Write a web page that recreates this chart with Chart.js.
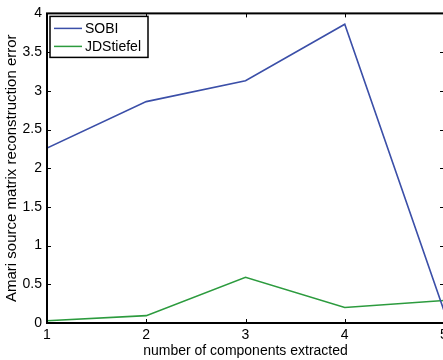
<!DOCTYPE html>
<html>
<head>
<meta charset="utf-8">
<script src="https://cdn.jsdelivr.net/npm/chart.js@4/dist/chart.umd.min.js"></script>
<style>
  html, body { margin: 0; padding: 0; background: #fff; overflow: hidden; }
  #wrap { width: 470px; height: 360px; position: relative; }
</style>
</head>
<body>
<div id="wrap"><canvas id="c"></canvas></div>
<script>
// Number of extracted components
const components = [1, 2, 3, 4, 5];
// Amari reconstruction error per method
const sobiError = [2.26, 2.86, 3.13, 3.86, 0.16];
const jdStiefelError = [0.03, 0.095, 0.59, 0.2, 0.29];
// Axis tick values
const xTicks = [1, 2, 3, 4, 5];
const yTicks = [0, 0.5, 1, 1.5, 2, 2.5, 3, 3.5, 4];

const seriesNames = ['SOBI', 'JDStiefel'];
const seriesColors = ['#3b4fa8', '#2c9b3e'];
const FONT = 'Liberation Sans, Arial, Helvetica, sans-serif';

function toPoints(xs, ys) {
  return xs.map((x, i) => ({ x: x, y: ys[i] }));
}

// Boxed axes with inward tick marks on all four sides, plus an inset legend
const boxPlugin = {
  id: 'boxAxes',
  afterDatasetsDraw(chart) {
    const { ctx, chartArea: a, scales } = chart;
    const xs = scales.x, ys = scales.y;
    const tl = 4;
    ctx.save();
    ctx.strokeStyle = '#000';
    ctx.lineWidth = 1;
    ctx.beginPath();
    xTicks.forEach(v => {
      const px = Math.round(xs.getPixelForValue(v)) + 0.5;
      ctx.moveTo(px, a.bottom); ctx.lineTo(px, a.bottom - tl);
      ctx.moveTo(px, a.top); ctx.lineTo(px, a.top + tl);
    });
    yTicks.forEach(v => {
      const py = Math.round(ys.getPixelForValue(v)) + 0.5;
      ctx.moveTo(a.left, py); ctx.lineTo(a.left + tl, py);
      ctx.moveTo(a.right, py); ctx.lineTo(a.right - tl, py);
    });
    ctx.stroke();
    ctx.lineWidth = 2;
    ctx.strokeRect(a.left, a.top, a.right - a.left, a.bottom - a.top);

    // legend
    const lx = a.left + 3, ly = a.top + 3, lw = 98, lh = 41;
    ctx.fillStyle = '#fff';
    ctx.fillRect(lx, ly, lw, lh);
    ctx.lineWidth = 1.5;
    ctx.strokeStyle = '#000';
    ctx.strokeRect(lx, ly, lw, lh);
    ctx.font = '14px ' + FONT;
    ctx.textBaseline = 'middle';
    ctx.textAlign = 'left';
    seriesNames.forEach((name, i) => {
      const y = ly + 12 + i * 18;
      ctx.strokeStyle = seriesColors[i];
      ctx.lineWidth = 1.5;
      ctx.beginPath();
      ctx.moveTo(lx + 4, y); ctx.lineTo(lx + 32, y);
      ctx.stroke();
      ctx.fillStyle = '#000';
      ctx.fillText(name, lx + 35, y + 1);
    });
    ctx.restore();
  }
};

new Chart(document.getElementById('c'), {
  type: 'line',
  data: {
    datasets: [
      {
        label: seriesNames[0],
        data: toPoints(components, sobiError),
        borderColor: seriesColors[0],
        borderWidth: 1.6,
        pointRadius: 0,
        tension: 0,
        fill: false
      },
      {
        label: seriesNames[1],
        data: toPoints(components, jdStiefelError),
        borderColor: seriesColors[1],
        borderWidth: 1.6,
        pointRadius: 0,
        tension: 0,
        fill: false
      }
    ]
  },
  options: {
    responsive: true,
    maintainAspectRatio: false,
    animation: false,
    layout: { padding: { top: 10, right: 26, left: 0, bottom: 0 } },
    plugins: { legend: { display: false }, tooltip: { enabled: false } },
    scales: {
      x: {
        type: 'linear',
        min: 1, max: 5,
        afterBuildTicks: s => { s.ticks = xTicks.map(v => ({ value: v })); },
        afterFit: s => { s.height = 37; },
        grid: { display: false, drawTicks: false },
        border: { display: false },
        ticks: { color: '#000', padding: 4, font: { size: 14, family: FONT }, maxRotation: 0,
                 callback: v => String(v) },
        title: {
          display: true,
          text: 'number of components extracted',
          color: '#000',
          font: { size: 14, family: FONT },
          padding: { top: 0, bottom: 0.5 }
        }
      },
      y: {
        type: 'linear',
        min: 0, max: 4,
        afterBuildTicks: s => { s.ticks = yTicks.map(v => ({ value: v })); },
        afterFit: s => { s.width = 47; },
        grid: { display: false, drawTicks: false },
        border: { display: false },
        ticks: { color: '#000', padding: 5, font: { size: 14, family: FONT },
                 callback: v => String(v) },
        title: {
          display: true,
          text: 'Amari source matrix reconstruction error',
          color: '#000',
          font: { size: 15, family: FONT },
          padding: { top: 3, bottom: 0 }
        }
      }
    }
  },
  plugins: [boxPlugin]
});
</script>
</body>
</html>
